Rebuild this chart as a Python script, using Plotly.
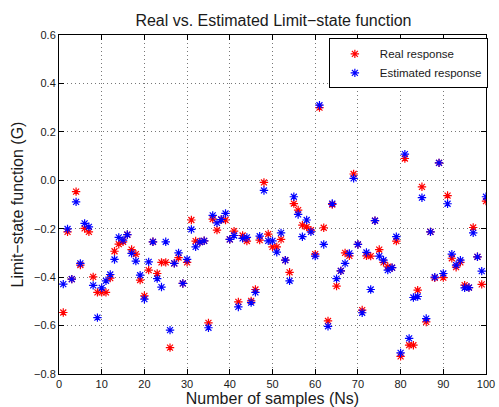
import plotly.graph_objects as go

samples = list(range(1, 101))

real_response = [
    -0.546, -0.213, -0.408, -0.047, -0.350, -0.199, -0.213, -0.399, -0.463, -0.463,
    -0.463, -0.404, -0.293, -0.264, -0.254, -0.225, -0.286, -0.305, -0.412, -0.477,
    -0.371, -0.254, -0.385, -0.339, -0.339, -0.691, -0.343, -0.319, -0.426, -0.339,
    -0.164, -0.251, -0.255, -0.250, -0.589, -0.160, -0.206, -0.162, -0.164, -0.244,
    -0.210, -0.502, -0.228, -0.251, -0.498, -0.451, -0.247, -0.009, -0.222, -0.275,
    -0.275, -0.244, -0.330, -0.380, -0.096, -0.123, -0.185, -0.192, -0.206, -0.305,
    0.300, -0.196, -0.581, -0.100, -0.437, -0.374, -0.300, -0.312, 0.026, -0.265,
    -0.536, -0.312, -0.313, -0.167, -0.286, -0.339, -0.357, -0.361, -0.251, -0.727,
    0.090, -0.681, -0.681, -0.454, -0.027, -0.585, -0.213, -0.403, 0.072, -0.402,
    -0.063, -0.322, -0.359, -0.339, -0.433, -0.443, -0.195, -0.316, -0.430, -0.086,
]

estimated_response = [
    -0.429, -0.201, -0.408, -0.089, -0.343, -0.178, -0.192, -0.434, -0.567, -0.444,
    -0.415, -0.389, -0.327, -0.236, -0.247, -0.224, -0.302, -0.334, -0.392, -0.491,
    -0.337, -0.254, -0.406, -0.441, -0.254, -0.619, -0.343, -0.300, -0.426, -0.327,
    -0.203, -0.275, -0.255, -0.250, -0.609, -0.145, -0.176, -0.162, -0.137, -0.244,
    -0.228, -0.523, -0.240, -0.236, -0.505, -0.463, -0.231, -0.042, -0.250, -0.250,
    -0.297, -0.217, -0.330, -0.415, -0.068, -0.141, -0.233, -0.164, -0.213, -0.313,
    0.310, -0.265, -0.603, -0.096, -0.406, -0.374, -0.343, -0.302, 0.008, -0.265,
    -0.547, -0.298, -0.451, -0.167, -0.313, -0.330, -0.371, -0.361, -0.233, -0.713,
    0.108, -0.653, -0.484, -0.480, -0.072, -0.571, -0.213, -0.400, 0.072, -0.385,
    -0.097, -0.305, -0.350, -0.330, -0.444, -0.443, -0.217, -0.316, -0.375, -0.068,
]

x_ticks = [0, 10, 20, 30, 40, 50, 60, 70, 80, 90, 100]
y_ticks = [-0.8, -0.6, -0.4, -0.2, 0, 0.2, 0.4, 0.6]

FONT = "Liberation Sans, Arial, Helvetica, sans-serif"
TXT = "#1a1a1a"

fig = go.Figure()
fig.add_trace(go.Scatter(
    x=samples, y=real_response, mode="markers", name="Real response",
    marker=dict(symbol="asterisk-open", size=7, color="#ff0000",
                line=dict(color="#ff0000", width=1.2)),
))
fig.add_trace(go.Scatter(
    x=samples, y=estimated_response, mode="markers", name="Estimated response",
    marker=dict(symbol="asterisk-open", size=7, color="#0000ff",
                line=dict(color="#0000ff", width=1.2)),
))

axis_common = dict(
    showline=True, linecolor="black", linewidth=1, mirror="allticks",
    ticks="inside", ticklen=5, tickcolor="black", tickwidth=1,
    showgrid=True, gridcolor="#777777", gridwidth=1, griddash="1px,3px",
    zeroline=False, automargin=False,
    tickfont=dict(family=FONT, size=11, color=TXT),
)

fig.update_layout(
    width=499, height=407,
    margin=dict(l=59, r=11, t=35, b=33),
    paper_bgcolor="white", plot_bgcolor="white",
    font=dict(family=FONT, color=TXT),
    title=dict(text="Real vs. Estimated Limit\u2212state function",
               x=0.548, xanchor="center", y=0.949, yanchor="middle",
               font=dict(family=FONT, size=16, color=TXT)),
    xaxis=dict(range=[0, 100], tickvals=x_ticks,
               title=dict(text="Number of samples (Ns)", standoff=2,
                          font=dict(family=FONT, size=16, color=TXT)),
               **axis_common),
    yaxis=dict(range=[-0.8, 0.6], tickvals=y_ticks, tickformat=".1f",
               title=dict(text="Limit\u2212state function (G)", standoff=6,
                          font=dict(family=FONT, size=16, color=TXT)),
               **axis_common),
    legend=dict(x=0.632, y=0.99, xanchor="left", yanchor="top",
                bgcolor="white", bordercolor="black", borderwidth=1,
                font=dict(family=FONT, size=11.5, color=TXT),
                itemwidth=40, tracegroupgap=0),
    showlegend=True,
)

fig.write_html(
    "out.html",
    config={"displayModeBar": False},
    post_script="document.body.style.margin='0px';document.body.style.padding='0px';document.body.style.overflow='hidden';",
)
